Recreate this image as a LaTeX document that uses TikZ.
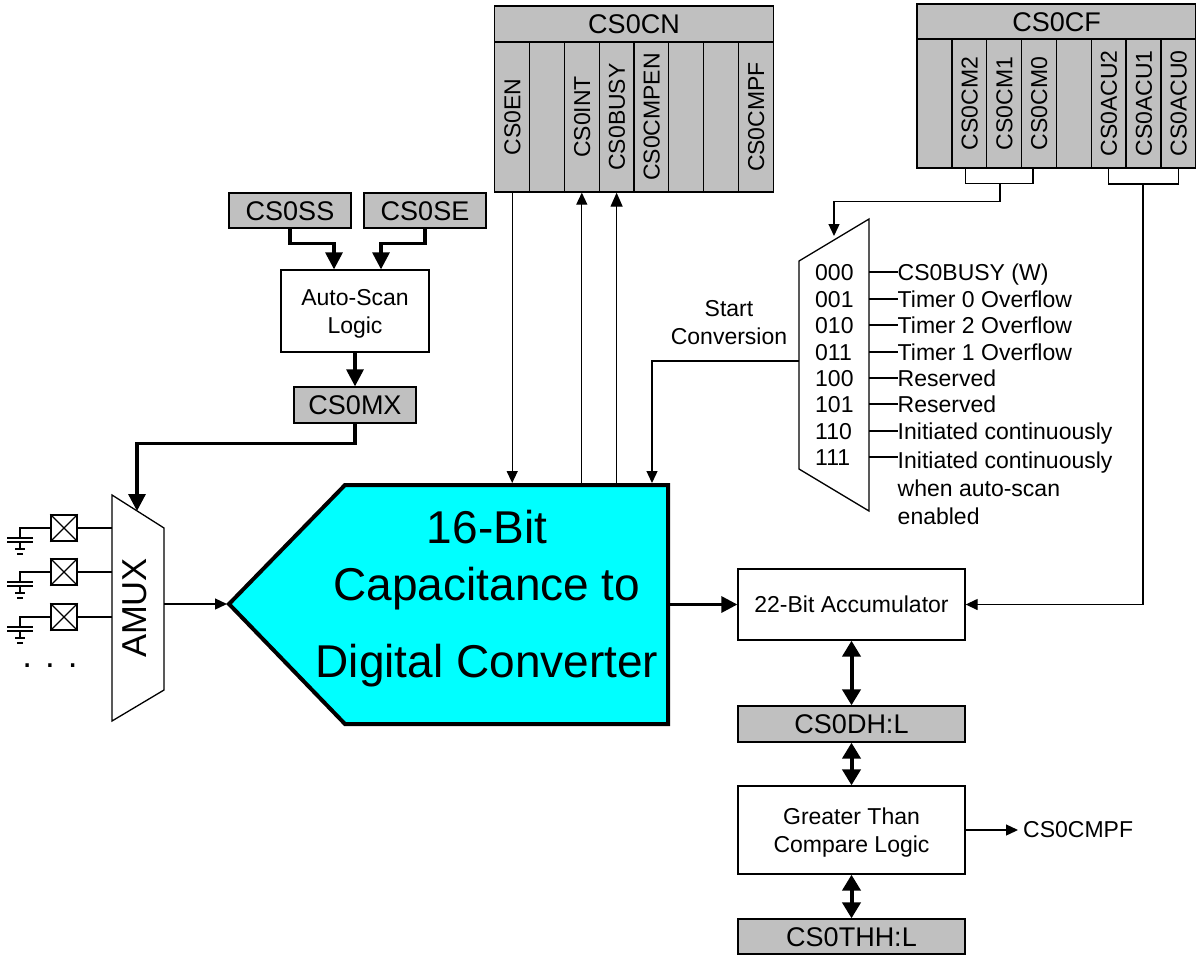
\documentclass[tikz,border=0pt]{standalone}
\usepackage{fontspec}
\setmainfont{Liberation Sans}
\usetikzlibrary{arrows.meta}
\definecolor{reggray}{HTML}{C0C0C0}
\definecolor{adccyan}{HTML}{00FFFF}
\tikzset{
    wire/.style={line width=1.3pt, line join=miter},
    wirearrow/.style={wire, -{Triangle[length=12pt,width=11pt]}},
    busarrow/.style={line width=3.2pt, line join=miter, -{Triangle[length=17pt,width=17pt]}},
    dualarrow/.style={line width=4pt, {Triangle[length=16pt,width=18pt]}-{Triangle[length=16pt,width=18pt]}},
    reg/.style={draw, wire, fill=reggray, inner sep=0pt, text height=19.3pt, text depth=0pt, font=\fontsize{27}{32}\selectfont},
    cell/.style={draw, wire, fill=reggray, inner sep=0pt, rotate=90, minimum height=34.85pt, text height=16.5pt, text depth=0pt, font=\fontsize{23}{28}\selectfont},
    logicbox/.style={draw, wire, fill=white, inner sep=0pt, align=center, text depth=0pt, font=\fontsize{23}{28}\selectfont},
    tag/.style={inner sep=0pt, anchor=west, text height=16.5pt, text depth=0pt, font=\fontsize{23}{28}\selectfont},
    padbox/.style={draw, wire, minimum size=26pt, inner sep=0pt}
}
\begin{document}
\begin{tikzpicture}[x=1pt, y=-1pt]
    \useasboundingbox (0,0) rectangle (1196,956);
    % converter body
    \coordinate (adcnw) at (345,485);
    \coordinate (adcne) at (668,485);
    \coordinate (adcse) at (668,724);
    \coordinate (adcsw) at (345,724);
    \coordinate (adctip) at (229,604);
    \draw[line width=4pt, fill=adccyan, line join=miter] (adcnw) -- (adcne) -- (adcse) -- (adcsw) -- (adctip) -- cycle;
    \node[inner sep=0pt, align=center, font=\fontsize{46}{57}\selectfont] (adc) at (487,599)
        {16-Bit\\Capacitance to\\[20pt]Digital Converter};
    % CS0CN register
    \node[reg, minimum width=278.5pt, minimum height=36pt] (cn) at (634,24) {CS0CN};
    \foreach \i/\lbl in {1/CS0EN,2/{},3/CS0INT,4/CS0BUSY,5/CS0CMPEN,6/{},7/{},8/CS0CMPF}
        \node[cell, minimum width=150pt] (cn\i) at ({495+34.8*(\i-.5)-.2},117) {\lbl};
    % CS0CF register
    \node[reg, minimum width=279pt, minimum height=35pt] (cf) at (1056.5,21.5) {CS0CF};
    \foreach \i/\lbl in {1/{},2/CS0CM2,3/CS0CM1,4/CS0CM0,5/{},6/CS0ACU2,7/CS0ACU1,8/CS0ACU0}
        \node[cell, minimum width=129pt] (cf\i) at ({917+34.85*(\i-.5)},103.5) {\lbl};
    % scan registers
    \node[reg, minimum width=122pt, minimum height=35pt] (ss) at (290,210.5) {CS0SS};
    \node[reg, minimum width=122pt, minimum height=35pt] (se) at (425,210.5) {CS0SE};
    \node[logicbox, minimum width=148pt, minimum height=82pt] (scan) at (355,311) {Auto-Scan\\Logic};
    \node[reg, minimum width=122pt, minimum height=36pt] (mx) at (355,405) {CS0MX};
    \draw[busarrow] (ss.south) -- ++(0,15) -| ([xshift=-21pt]scan.north);
    \draw[busarrow] (se.south) -- ++(0,15) -| ([xshift=26pt]scan.north);
    \draw[busarrow] (scan.south) -- (mx.north);
    % analog mux
    \coordinate (amuxnw) at (112,495);
    \coordinate (amuxne) at (164,528);
    \coordinate (amuxse) at (164,690);
    \coordinate (amuxsw) at (112,721);
    \draw[wire] (amuxnw) -- (amuxne) -- (amuxse) -- (amuxsw) -- cycle;
    \node[rotate=90, inner sep=0pt, font=\fontsize{34.6}{40}\selectfont] (amux) at (134.5,608) {AMUX};
    \draw[busarrow] (mx.south) -- ++(0,20) -| (137,511);
    \foreach \i/\y in {1/528,2/572,3/617} {
        \node[padbox] (pad\i) at (64,\y) {};
        \draw[wire] (pad\i.south west) -- (pad\i.north east);
        \draw[wire] (pad\i.north west) -- (pad\i.south east);
        \draw[wire] (pad\i.east) -- (112,\y);
        \coordinate (cap\i) at (20,\y);
        \draw[wire] (pad\i.west) -- (cap\i) -- ++(0,10);
        \draw[wire] (7,\y+10) -- (33,\y+10);
        \draw[wire] (7,\y+14) -- (33,\y+14);
        \draw[wire] (20,\y+14) -- (20,\y+21);
        \draw[wire] (15,\y+21) -- (25,\y+21);
        \draw[wire] (17,\y+26) -- (23,\y+26);
    }
    \node[anchor=base, inner sep=0pt, font=\fontsize{35}{40}\selectfont] (dots) at (50,667) {. . .};
    \draw[wirearrow, shorten >=2pt] (amuxne |- adctip) -- (adctip);
    % control bits to converter
    \draw[wirearrow, shorten >=2pt] (cn1.west) -- (cn1.west |- adcne);
    \draw[wirearrow] (cn3.west |- adcne) -- (cn3.west);
    \draw[wirearrow, -{Triangle[length=14pt,width=12pt]}] (cn4.west |- adcne) -- (cn4.west);
    % start conversion mux
    \coordinate (modene) at (869,219);
    \coordinate (modese) at (869,511);
    \coordinate (modesw) at (799,469);
    \coordinate (modenw) at (799,261);
    \draw[wire] (modene) -- (modese) -- (modesw) -- (modenw) -- cycle;
    \foreach \i/\y/\code/\src in {1/272/000/CS0BUSY (W),2/299/001/Timer 0 Overflow,3/325/010/Timer 2 Overflow,4/352/011/Timer 1 Overflow,5/378/100/Reserved,6/404/101/Reserved,7/431/110/Initiated continuously} {
        \node[tag] (code\i) at (815,\y) {\code};
        \node[tag] (src\i) at (897.5,\y) {\src};
        \draw[wire] (modene |- src\i.west) -- (src\i.west);
    }
    \node[tag] (code8) at (815,457) {111};
    \node[inner sep=0pt, anchor=north west, align=left, font=\fontsize{23}{28}\selectfont] (src8) at (897.5,452) {Initiated continuously\\when auto-scan\\enabled};
    \draw[wire] (modene |- code8.west) -- (897.5,457);
    \node[inner sep=0pt, align=center, font=\fontsize{23}{28}\selectfont] (startconv) at (729,323) {Start\\Conversion};
    \coordinate (modeout) at (799,361);
    \draw[wirearrow, shorten >=2pt] (modeout) -| (652,485);
    \coordinate (cmjoin) at (1000,183.5);
    \draw[wire] ([xshift=-3.5pt]cf2.west) |- (cmjoin) -| ([xshift=-6pt]cf4.west);
    \draw[wirearrow] (cmjoin) -- ++(0,18) -| (834,236);
    % accumulator chain
    \node[logicbox, minimum width=227pt, minimum height=71pt] (accum) at (851.5,604.5) {22-Bit Accumulator};
    \node[reg, minimum width=227pt, minimum height=36pt] (dhl) at (851.5,724) {CS0DH:L};
    \node[logicbox, minimum width=227pt, minimum height=88pt] (gtlogic) at (851.5,830) {Greater Than\\Compare Logic};
    \node[reg, minimum width=227pt, minimum height=35pt] (thl) at (851.5,936.5) {CS0THH:L};
    \node[tag] (cmpf) at (1023,829) {CS0CMPF};
    \coordinate (acjoin) at (1143,184);
    \draw[wire] (cf6.west) |- (acjoin) -| (cf8.west);
    \draw[wirearrow] (acjoin) |- (accum.east);
    \draw[busarrow, -{Triangle[length=16pt,width=16pt]}] (adcse |- accum.west) -- (accum.west);
    \draw[dualarrow] (accum.south) -- (dhl.north);
    \draw[dualarrow] (dhl.south) -- (gtlogic.north);
    \draw[dualarrow] (gtlogic.south) -- (thl.north);
    \draw[wirearrow] (gtlogic.east) -- (1018,830);
\end{tikzpicture}
\end{document}
